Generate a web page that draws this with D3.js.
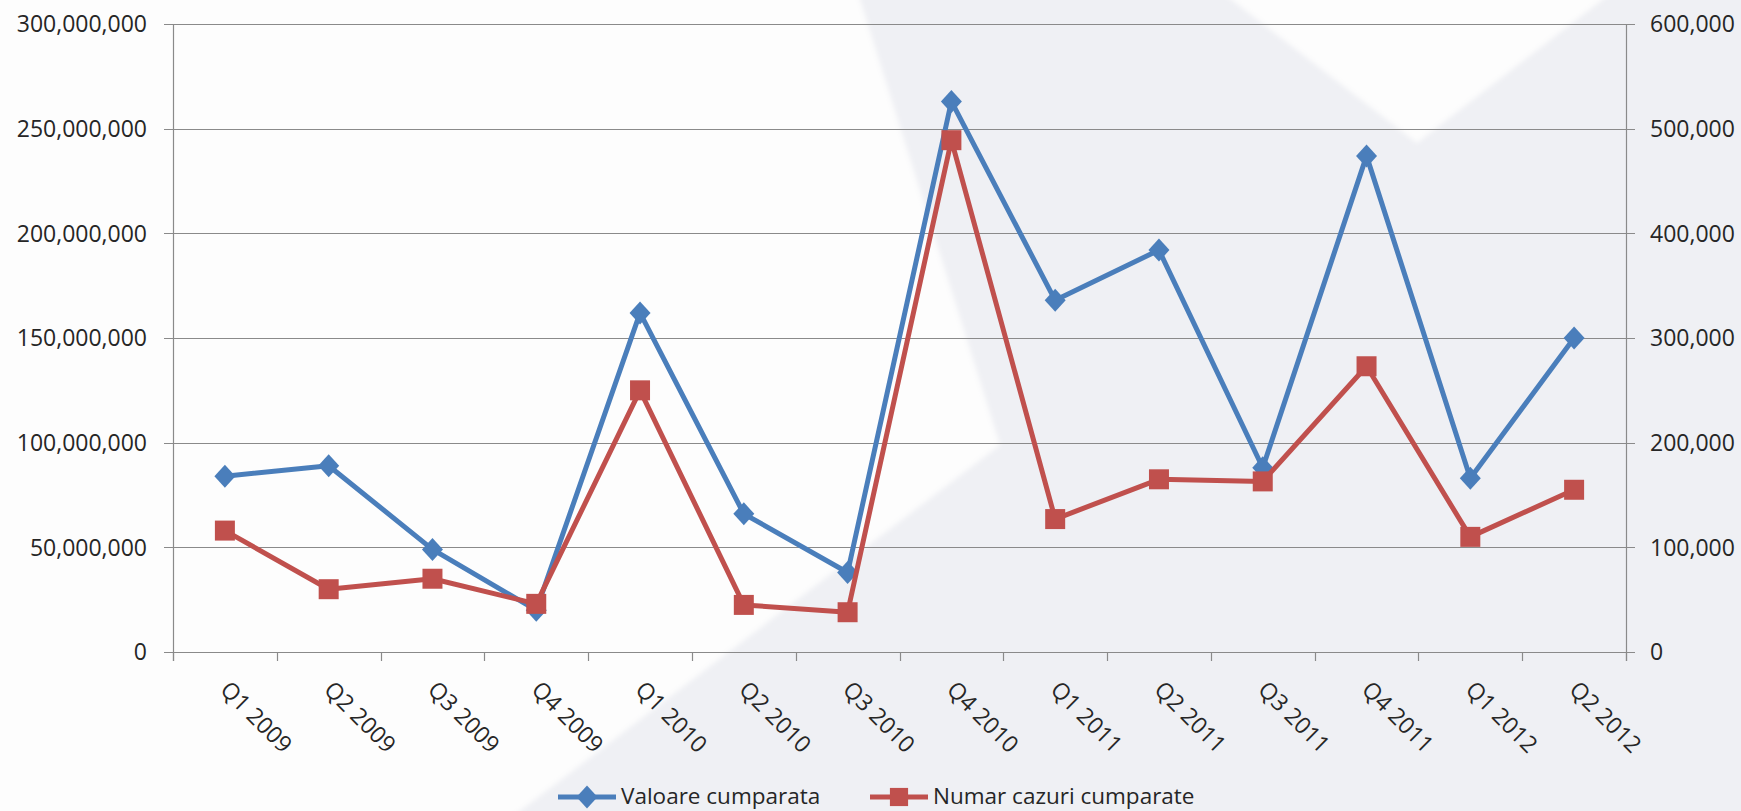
<!DOCTYPE html>
<html>
<head>
<meta charset="utf-8">
<script src="https://cdn.jsdelivr.net/npm/d3@7"></script>
<style>
  html, body { margin: 0; padding: 0; background: #fdfdfd; }
  svg { display: block; font-family: "Open Sans", sans-serif; }
</style>
</head>
<body>
<svg id="chart" width="1741" height="811"></svg>
<script>
// quarters on the x axis
const quarters = ["Q1 2009","Q2 2009","Q3 2009","Q4 2009","Q1 2010","Q2 2010","Q3 2010",
  "Q4 2010","Q1 2011","Q2 2011","Q3 2011","Q4 2011","Q1 2012","Q2 2012"]
// left axis series (lei)
const valoareCumparata = [84000000, 89000000, 49000000, 20000000, 162000000, 66000000, 38000000,
  263000000, 168000000, 192000000, 88000000, 237000000, 83000000, 150000000]
// right axis series (cases)
const numarCazuri = [116000, 60000, 70000, 46000, 250000, 45000, 38000,
  489000, 127000, 165000, 163000, 273000, 110000, 155000]
const leftTicks = [0, 50000000, 100000000, 150000000, 200000000, 250000000, 300000000]
const rightTicks = [0, 100000, 200000, 300000, 400000, 500000, 600000]
const seriesNames = ["Valoare cumparata", "Numar cazuri cumparate"]

let chart = (el, dims) => {
    let ob = {}
    ob.init = () => {
        ob.svg = d3.select(el)
        ob.x = d3.scaleBand().domain(quarters).range([dims.left, dims.right])
        ob.yl = d3.scaleLinear().domain([0, 300000000]).range([dims.bottom, dims.top])
        ob.yr = d3.scaleLinear().domain([0, 600000]).range([dims.bottom, dims.top])
        ob.fmt = d3.format(",")

        // soft background shapes
        let defs = ob.svg.append("defs")
        defs.append("filter").attr("id", "soft").append("feGaussianBlur").attr("stdDeviation", 2.5)
        ob.svg.append("rect").attr("width", dims.width).attr("height", dims.height).attr("fill", "#eff0f4")
        let bg = ob.svg.append("g").attr("filter", "url(#soft)").attr("fill", "#fdfdfd")
        bg.append("path").attr("d", "M-10,-10L857,-10L1000,445L507,821L-10,821Z")
        bg.append("path").attr("d", "M1219,-10L1417,143L1615,-10Z")
    }
    ob.redraw = () => {
        let grid = ob.svg.append("g")
        // gridlines + outside ticks
        grid.selectAll("line.grid").data(leftTicks).join("line")
            .attr("class", "grid")
            .attr("x1", dims.left - 9).attr("x2", dims.right + 9)
            .attr("y1", d => Math.round(ob.yl(d)) + 0.5).attr("y2", d => Math.round(ob.yl(d)) + 0.5)
            .attr("stroke", "#8a8a8a").attr("stroke-width", 1.2)

        // vertical axis lines
        grid.append("line").attr("x1", dims.left + 0.5).attr("x2", dims.left + 0.5)
            .attr("y1", dims.top).attr("y2", dims.bottom + 9).attr("stroke", "#8a8a8a").attr("stroke-width", 1.2)
        grid.append("line").attr("x1", dims.right + 0.5).attr("x2", dims.right + 0.5)
            .attr("y1", dims.top).attr("y2", dims.bottom + 9).attr("stroke", "#8a8a8a").attr("stroke-width", 1.2)

        // category ticks at band edges
        let edges = quarters.map(q => ob.x(q)).concat([dims.right])
        grid.selectAll("line.ctick").data(edges).join("line")
            .attr("class", "ctick")
            .attr("x1", d => Math.round(d) + 0.5).attr("x2", d => Math.round(d) + 0.5)
            .attr("y1", dims.bottom).attr("y2", dims.bottom + 9)
            .attr("stroke", "#8a8a8a").attr("stroke-width", 1.2)

        // left labels
        ob.svg.append("g").selectAll("text").data(leftTicks).join("text")
            .attr("x", dims.left - 26).attr("y", d => ob.yl(d)).attr("dy", "0.36em")
            .attr("text-anchor", "end").attr("font-size", 23).attr("fill", "#262626")
            .text(d => ob.fmt(d))
        // right labels
        ob.svg.append("g").selectAll("text").data(rightTicks).join("text")
            .attr("x", dims.right + 24).attr("y", d => ob.yr(d)).attr("dy", "0.36em")
            .attr("text-anchor", "start").attr("font-size", 23).attr("fill", "#262626")
            .text(d => ob.fmt(d))
        // rotated category labels
        ob.svg.append("g").selectAll("text").data(quarters).join("text")
            .attr("transform", d => `translate(${ob.x(d) + ob.x.bandwidth() / 2 - 6},${dims.bottom + 39}) rotate(45)`)
            .attr("font-size", 23).attr("fill", "#262626")
            .text(d => d)

        let cx = d => ob.x(d) + ob.x.bandwidth() / 2
        let diamond = {draw: (ctx, size) => {
            let w = 10.5, h = 11.5
            ctx.moveTo(0, -h); ctx.lineTo(w, 0); ctx.lineTo(0, h); ctx.lineTo(-w, 0); ctx.closePath()
        }}
        let blueLine = d3.line().x((d, i) => cx(quarters[i])).y(d => ob.yl(d))
        let redLine = d3.line().x((d, i) => cx(quarters[i])).y(d => ob.yr(d))

        let blue = ob.svg.append("g")
        blue.append("path").attr("d", blueLine(valoareCumparata))
            .attr("fill", "none").attr("stroke", "#4a7ebb").attr("stroke-width", 5).attr("stroke-linejoin", "round")
        blue.selectAll("path.m").data(valoareCumparata).join("path").attr("class", "m")
            .attr("transform", (d, i) => `translate(${cx(quarters[i])},${ob.yl(d)})`)
            .attr("d", d3.symbol().type(diamond)()).attr("fill", "#4a7ebb")

        let red = ob.svg.append("g")
        red.append("path").attr("d", redLine(numarCazuri))
            .attr("fill", "none").attr("stroke", "#c0504d").attr("stroke-width", 5).attr("stroke-linejoin", "round")
        red.selectAll("path.m").data(numarCazuri).join("path").attr("class", "m")
            .attr("transform", (d, i) => `translate(${cx(quarters[i])},${ob.yr(d)})`)
            .attr("d", d3.symbol().type(d3.symbolSquare).size(400)()).attr("fill", "#c0504d")

        // legend
        let lg = ob.svg.append("g").attr("transform", "translate(0,797)")
        let items = [{name: seriesNames[0], x: 558, color: "#4a7ebb", sym: diamond, size: 0},
                     {name: seriesNames[1], x: 870, color: "#c0504d", sym: d3.symbolSquare, size: 330}]
        items.forEach(it => {
            lg.append("line").attr("x1", it.x).attr("x2", it.x + 58).attr("stroke", it.color).attr("stroke-width", 5)
            lg.append("path").attr("transform", `translate(${it.x + 29},0)`)
                .attr("d", d3.symbol().type(it.sym).size(it.size)()).attr("fill", it.color)
            lg.append("text").attr("x", it.x + 63).attr("y", 7).attr("font-size", 22.5).attr("fill", "#262626").text(it.name)
        })
    }
    ob.init()
    ob.redraw()
    return ob
}

chart("#chart", {width: 1741, height: 811, left: 173, right: 1626, top: 24, bottom: 652})
</script>
</body>
</html>
